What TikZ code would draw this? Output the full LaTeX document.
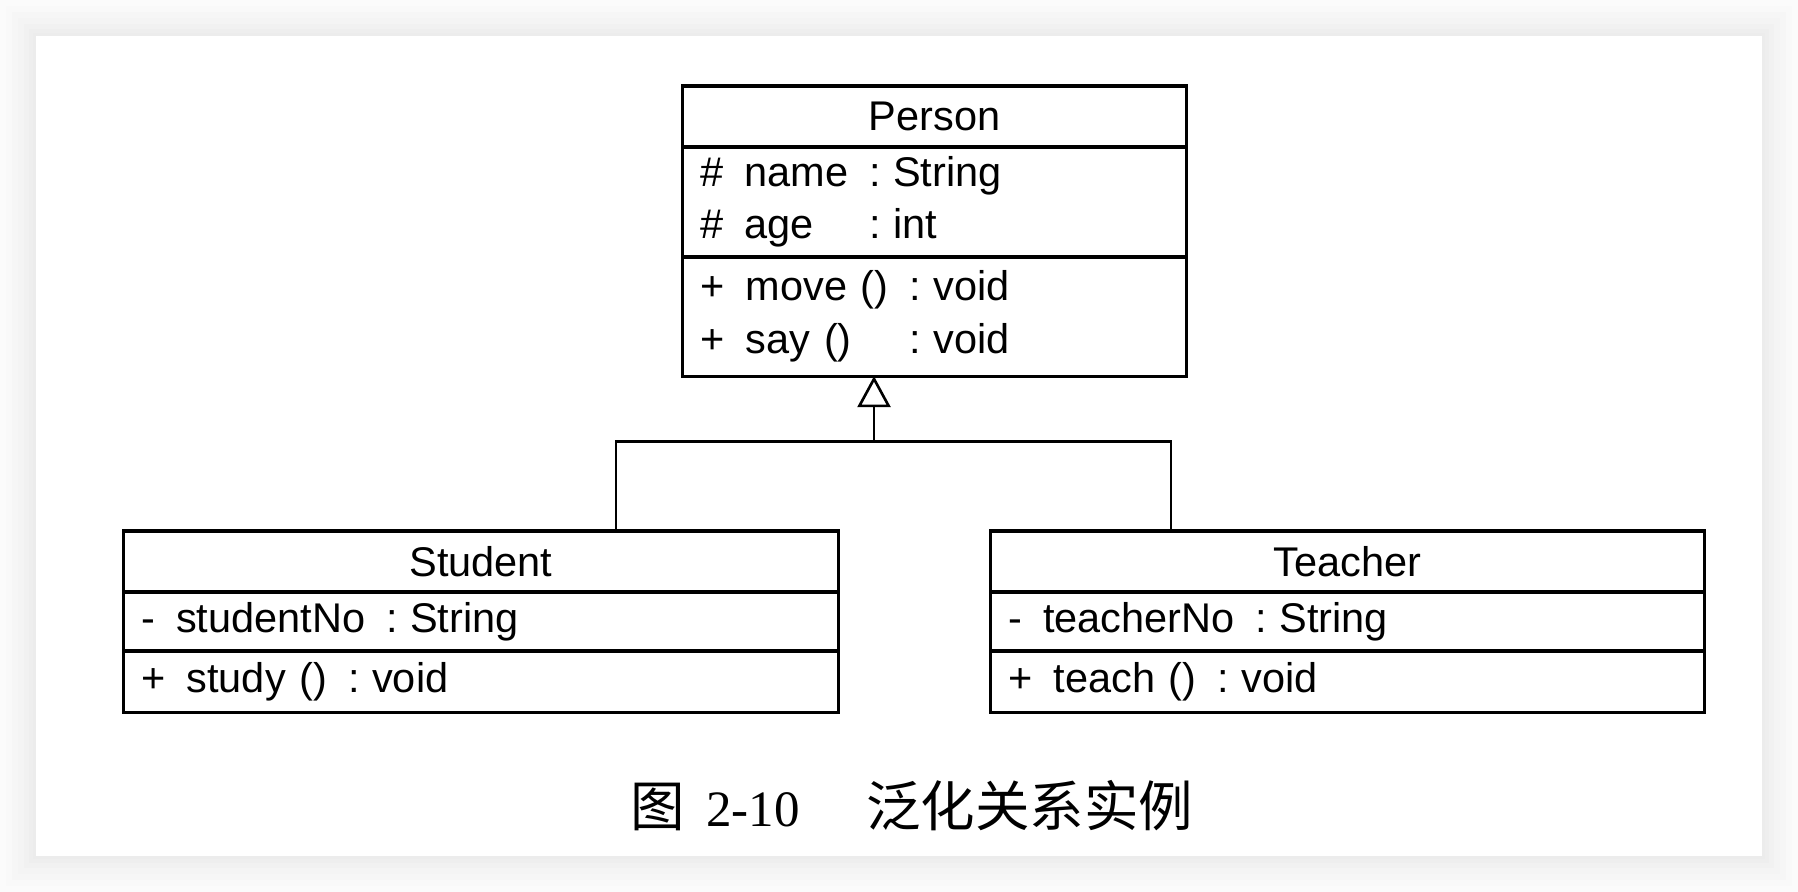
\documentclass[tikz,border=0pt]{standalone}
\usepackage{fontspec}
\setmainfont{Liberation Sans}
\newfontfamily\capserif{Liberation Serif}
\newfontfamily\cjk{Noto Sans CJK SC}
\usetikzlibrary{arrows.meta, positioning}

\begin{document}
\begin{tikzpicture}[
  x=0.01cm, y=-0.01cm,
  part/.style={draw, line width=0.9pt, outer sep=0pt, inner xsep=5pt,
               inner ysep=0pt, text width=#1, align=left,
               font=\fontsize{11.8}{15}\selectfont},
  link/.style={line width=0.75pt},
  gen/.style={link, -{Triangle[open, length=3.1mm, width=3.3mm]}}
]
  \useasboundingbox (0,0) rectangle (1798,892);
  % page with its shadow
  \fill[gray!3] (0,0) rectangle (1798,892);
  \foreach \d/\g in {30/5, 24/7, 18/9, 12/11, 7/13, 3/15}
    \fill[gray!\g] (36-\d,36-\d) rectangle (1762+\d,856+\d);
  \fill[white] (36,36) rectangle (1762,856);

  % Person
  \node[part=4.68cm, minimum height=0.61cm, align=center] (phead) at (934.5,116.5) {Person};
  \node[part=4.68cm, minimum height=1.10cm, below=0pt of phead] (pattr)
    {\begin{tabular}{@{}l@{\hspace{6pt}}l@{\hspace{6pt}}l@{}}
       \# & name & :\hspace{3.5pt}String\\
       \# & age  & :\hspace{3.5pt}int
     \end{tabular}};
  \node[part=4.68cm, minimum height=1.19cm, below=0pt of pattr] (pops)
    {\begin{tabular}{@{}l@{\hspace{6pt}}l@{\hspace{6pt}}l@{}}
       + & move () & :\hspace{3.5pt}void\\
       + & say ()  & :\hspace{3.5pt}void
     \end{tabular}};

  % Student
  \node[part=6.79cm, minimum height=0.61cm, align=center] (shead) at (481,561.5) {Student};
  \node[part=6.79cm, minimum height=0.59cm, below=0pt of shead] (sattr)
    {-\hspace{6pt}studentNo\hspace{6pt}:\hspace{3.5pt}String};
  \node[part=6.79cm, minimum height=0.61cm, below=0pt of sattr] (sops)
    {+\hspace{6pt}study ()\hspace{6pt}:\hspace{3.5pt}void};

  % Teacher
  \node[part=6.78cm, minimum height=0.61cm, align=center] (thead) at (1347.5,561.5) {Teacher};
  \node[part=6.78cm, minimum height=0.59cm, below=0pt of thead] (tattr)
    {-\hspace{6pt}teacherNo\hspace{6pt}:\hspace{3.5pt}String};
  \node[part=6.78cm, minimum height=0.61cm, below=0pt of tattr] (tops)
    {+\hspace{6pt}teach ()\hspace{6pt}:\hspace{3.5pt}void};

  % generalization
  \coordinate (fork) at (874,441.5);
  \coordinate (sj) at (616,441.5);
  \coordinate (tj) at (1171,441.5);
  \draw[gen] (fork) -- (pops.south -| fork);
  \draw[link] (shead.north -| sj) |- (fork) -| (thead.north -| tj);

  \node (caption) at (912,806)
    {\cjk\fontsize{15.5}{18}\selectfont 图\hspace{6pt}{\capserif\fontsize{14.5}{18}\selectfont 2-10}\hspace{19pt}泛化关系实例};
\end{tikzpicture}
\end{document}
